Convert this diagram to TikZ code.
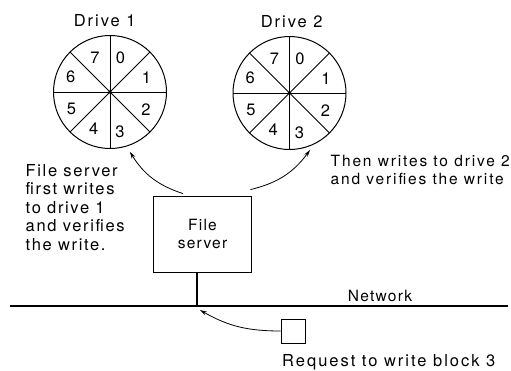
\documentclass[tikz,border=0pt]{standalone}
\usepackage{fontspec}
\setmainfont{TeX Gyre Heros}
\newfontfamily\bigf{TeX Gyre Heros}[LetterSpace=10]
\newfontfamily\medf{TeX Gyre Heros}[LetterSpace=8]
\newfontfamily\widef{TeX Gyre Heros}[LetterSpace=12]
\usetikzlibrary{arrows.meta}
\begin{document}
\begin{tikzpicture}[x=1pt,y=1pt,
  disk/.style={circle,draw,line width=1pt,minimum size=113pt,inner sep=0pt},
  biglbl/.style={font=\bigf\fontsize{16.5}{18.5}\selectfont,inner sep=0pt},
  widelbl/.style={font=\widef\fontsize{16.5}{18.5}\selectfont,inner sep=0pt},
  medlbl/.style={font=\medf\fontsize{15.5}{18}\selectfont,inner sep=0pt},
  rightlbl/.style={font=\widef\fontsize{15.5}{18}\selectfont,inner sep=0pt},
  num/.style={font=\fontsize{16.5}{18}\selectfont,inner sep=0pt},
  srv/.style={draw,line width=0.8pt,minimum width=98pt,minimum height=76pt,align=center,
    font=\medf\fontsize{15.5}{18}\selectfont},
  arr/.style={line width=0.8pt,-{Stealth[length=7pt,width=4pt]}},
  ]
\useasboundingbox (0,0) rectangle (511,-370);
% drives
\node[disk] (d1) at (110,-92) {};
\node[disk] (d2) at (289.5,-93) {};
\foreach \d in {d1,d2}{
  \foreach \a in {0,45,90,135}
    \draw[line width=0.8pt] ([shift={(\a:56.5)}]\d.center) -- ([shift={(\a+180:56.5)}]\d.center);
  \fill (\d.center) circle (1.8);
  \foreach \n/\a/\r in {0/73/36,1/21/39,2/-26/40,3/-76/41,4/-114/40,5/-157/42,6/159/42,7/114/37}
    \node[num] at ([shift={(\a:\r)}]\d.center) {\n};
}
\node[widelbl,anchor=base] (t1) at (104.7,-26) {Drive 1};
\node[widelbl,anchor=base] (t2) at (291.7,-27) {Drive 2};
% file server
\node[srv] (fs) at (202.5,-234) {File\\server};
% network
\coordinate (nl) at (10,-306);
\coordinate (nr) at (508,-306);
\coordinate (j) at (197,-306);
\coordinate (jt) at (200,-310);
\draw[line width=1.3pt] (nl) -- (nr);
\draw[line width=1.6pt] (fs.south -| j) -- (j);
\node[medlbl,anchor=base] (nw) at (380,-301.5) {Network};
% request
\node[draw,minimum size=24pt,inner sep=0pt,line width=0.8pt] (rq) at (293,-331) {};
\node[widelbl,anchor=base west] (rt) at (282,-366) {Request to write block 3};
\draw[arr] (rq.west) to[out=180,in=-30] (jt);
% write arrows
\draw[arr] ([shift={(-19.5,2)}]fs.north) to[bend left=20] ([shift={(-71.6:63)}]d1.center);
\draw[arr] ([shift={(-1.5,6)}]fs.north east) to[bend right=20] ([shift={(-70.2:60.6)}]d2.center);
% texts
\node[biglbl,align=left,anchor=north west] (lt) at (25.5,-164) {File server\\first writes\\to drive 1\\and verifies\\the write.};
\node[rightlbl,align=left,anchor=north west] (rt2) at (330.5,-155) {Then writes to drive 2\\and verifies the write};
\end{tikzpicture}
\end{document}
